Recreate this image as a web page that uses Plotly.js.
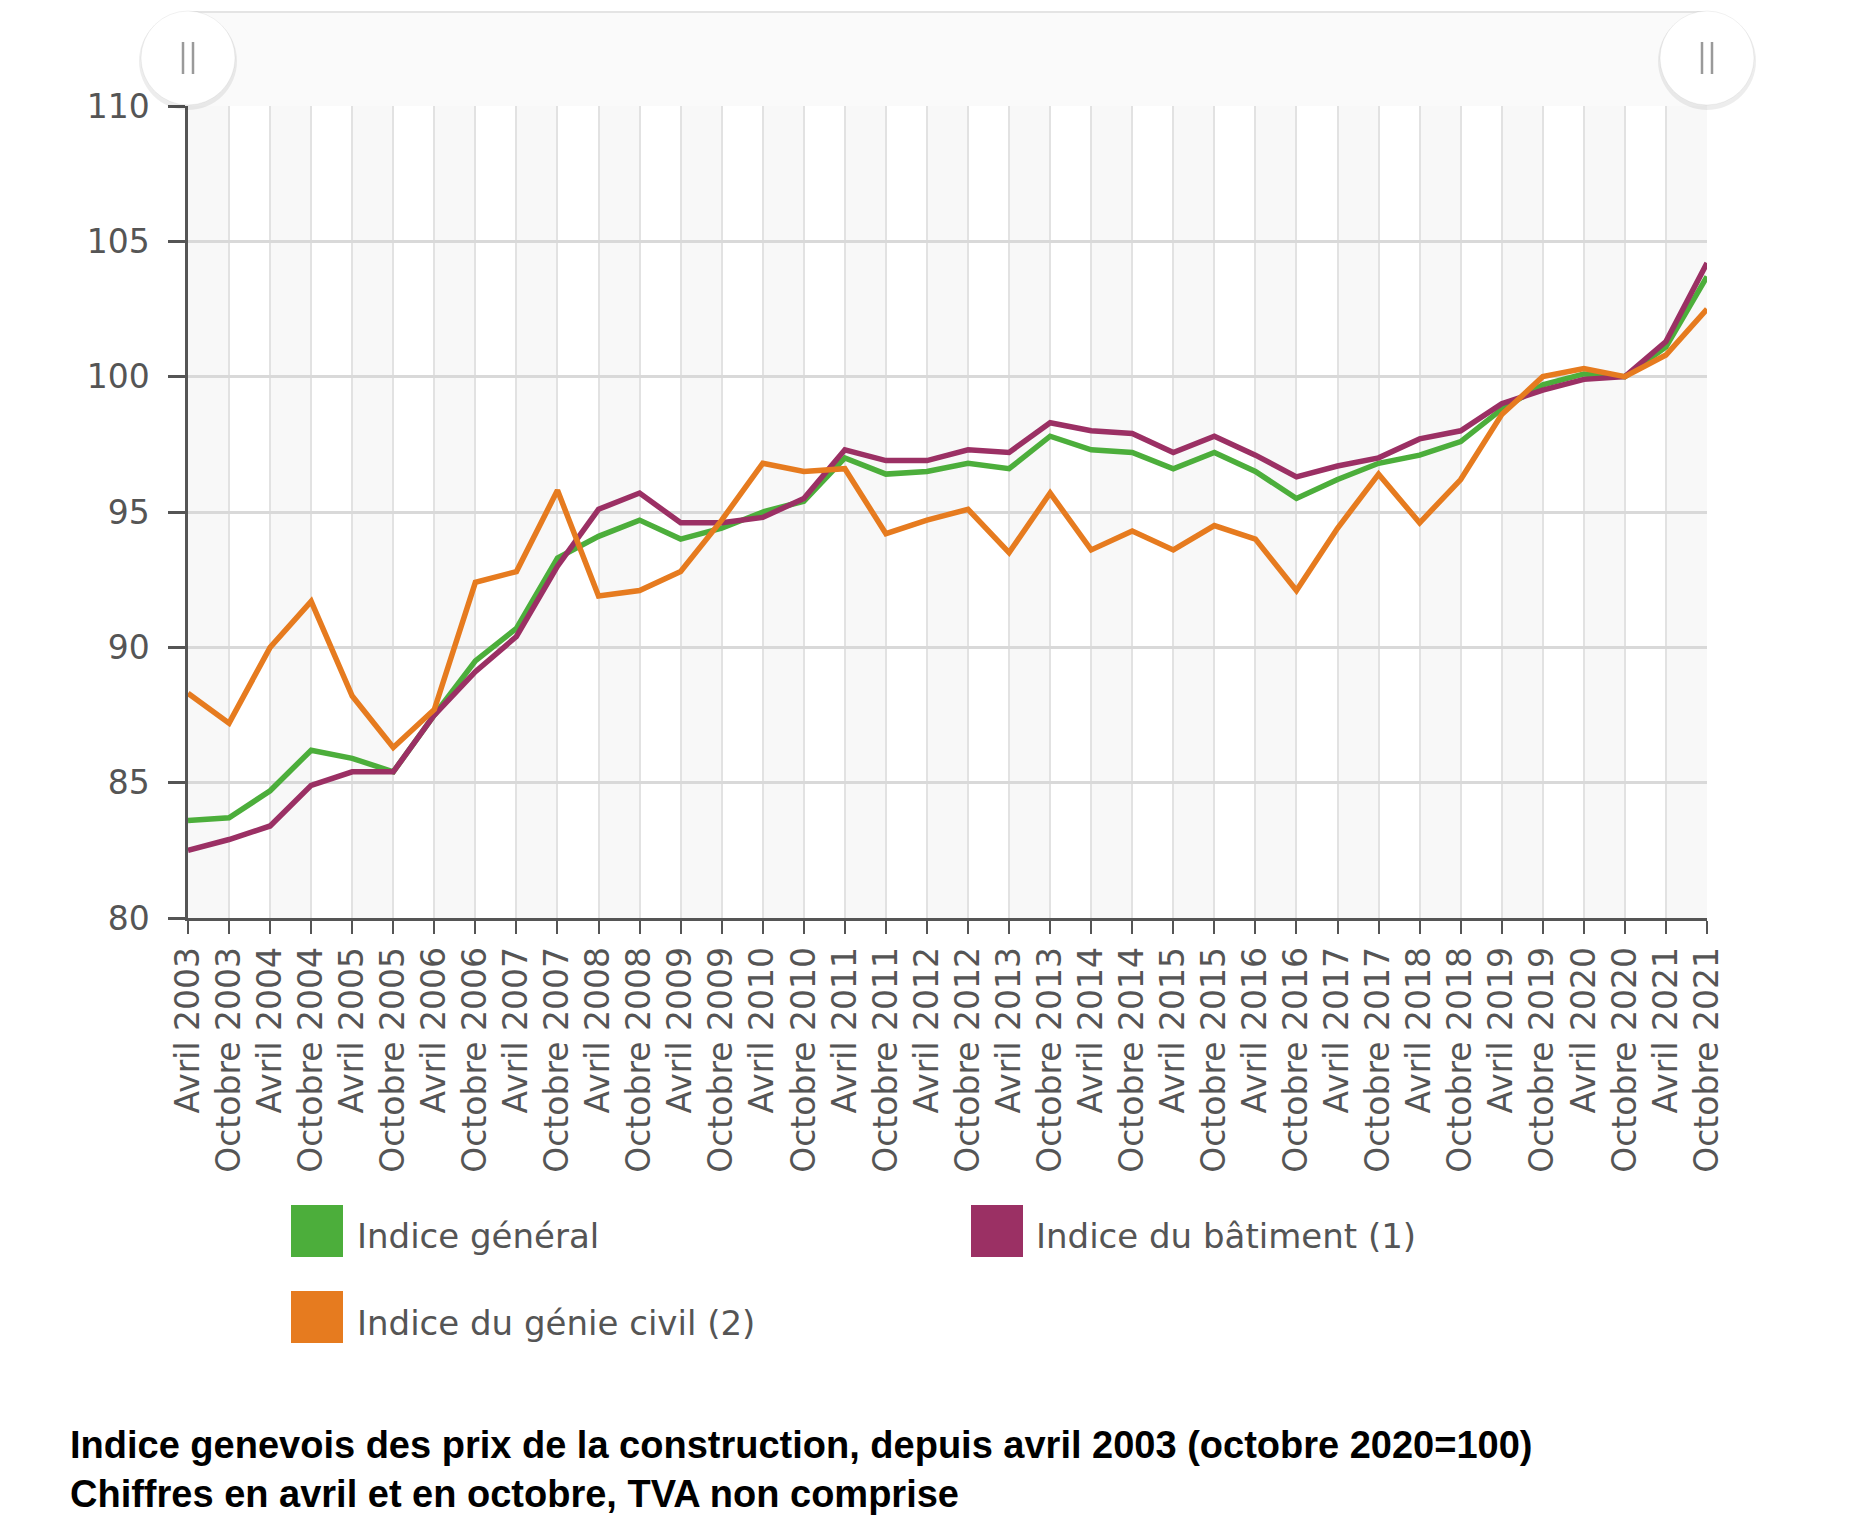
<!DOCTYPE html>
<html>
<head>
<meta charset="utf-8">
<script src="https://cdn.plot.ly/plotly-3.0.1.min.js"></script>
<style>
  html, body { margin: 0; padding: 0; background: #ffffff; }
  #chart { width: 1860px; height: 1522px; }
</style>
</head>
<body>
<div id="chart"></div>
<script>
// ---- Data ----
const categories = [
  "Avril 2003", "Octobre 2003", "Avril 2004", "Octobre 2004", "Avril 2005", "Octobre 2005",
  "Avril 2006", "Octobre 2006", "Avril 2007", "Octobre 2007", "Avril 2008", "Octobre 2008",
  "Avril 2009", "Octobre 2009", "Avril 2010", "Octobre 2010", "Avril 2011", "Octobre 2011",
  "Avril 2012", "Octobre 2012", "Avril 2013", "Octobre 2013", "Avril 2014", "Octobre 2014",
  "Avril 2015", "Octobre 2015", "Avril 2016", "Octobre 2016", "Avril 2017", "Octobre 2017",
  "Avril 2018", "Octobre 2018", "Avril 2019", "Octobre 2019", "Avril 2020", "Octobre 2020",
  "Avril 2021", "Octobre 2021"
];

const indiceGeneral = [
  83.6, 83.7, 84.7, 86.2, 85.9, 85.4, 87.5, 89.5, 90.7, 93.3,
  94.1, 94.7, 94.0, 94.4, 95.0, 95.4, 97.0, 96.4, 96.5, 96.8,
  96.6, 97.8, 97.3, 97.2, 96.6, 97.2, 96.5, 95.5, 96.2, 96.8,
  97.1, 97.6, 98.8, 99.7, 100.1, 100.0, 101.1, 103.7
];

const indiceBatiment = [
  82.5, 82.9, 83.4, 84.9, 85.4, 85.4, 87.5, 89.1, 90.4, 93.0,
  95.1, 95.7, 94.6, 94.6, 94.8, 95.5, 97.3, 96.9, 96.9, 97.3,
  97.2, 98.3, 98.0, 97.9, 97.2, 97.8, 97.1, 96.3, 96.7, 97.0,
  97.7, 98.0, 99.0, 99.5, 99.9, 100.0, 101.3, 104.2
];

const indiceGenieCivil = [
  88.3, 87.2, 90.0, 91.7, 88.2, 86.3, 87.7, 92.4, 92.8, 95.8,
  91.9, 92.1, 92.8, 94.7, 96.8, 96.5, 96.6, 94.2, 94.7, 95.1,
  93.5, 95.7, 93.6, 94.3, 93.6, 94.5, 94.0, 92.1, 94.4, 96.4,
  94.6, 96.2, 98.6, 100.0, 100.3, 100.0, 100.8, 102.5
];

const seriesNames = ["Indice général", "Indice du bâtiment (1)", "Indice du génie civil (2)"];
const seriesColors = ["#4cae3b", "#9b3064", "#e67b1f"];
const yTickValues = [80, 85, 90, 95, 100, 105, 110];

const titleLines = [
  "Indice genevois des prix de la construction, depuis avril 2003 (octobre 2020=100)",
  "Chiffres en avril et en octobre, TVA non comprise"
];

// ---- Layout geometry (pixels) ----
const W = 1860, H = 1522;
const plotL = 188, plotR = 1707, plotT = 106, plotB = 918;
const pw = plotR - plotL, ph = plotB - plotT;
const px2x = px => (px - plotL) / pw;
const py2y = py => (plotB - py) / ph;

const tickFont = { family: "DejaVu Sans, Verdana, sans-serif", size: 33, color: "#555555" };

// ---- Traces (green, purple, then orange on top) ----
const seriesData = [indiceGeneral, indiceBatiment, indiceGenieCivil];
const traces = seriesData.map((vals, i) => ({
  type: "scatter",
  mode: "lines",
  name: seriesNames[i],
  x: categories,
  y: vals,
  line: { color: seriesColors[i], width: 5.5 },
  showlegend: false,
  hovertemplate: "%{x}<br>" + seriesNames[i] + ": %{y}<extra></extra>"
}));

// ---- Shapes ----
const shapes = [];
// alternating vertical bands
for (let k = 0; k < categories.length - 1; k += 2) {
  shapes.push({
    type: "rect", xref: "x", yref: "paper",
    x0: k, x1: k + 1, y0: 0, y1: 1,
    fillcolor: "#f8f8f8", line: { width: 0 }, layer: "below"
  });
}
// navigator strip on top
shapes.push({
  type: "rect", xref: "paper", yref: "paper",
  x0: 0, x1: 1, y0: 1.0, y1: py2y(12),
  fillcolor: "#fafafa", line: { width: 0 }, layer: "above"
});
shapes.push({
  type: "line", xref: "paper", yref: "paper",
  x0: 0, x1: 1, y0: py2y(12), y1: py2y(12),
  line: { color: "#e4e4e4", width: 2 }, layer: "above"
});
// navigator handles
const handleY = py2y(58);
[0, 1].forEach(ax => {
  shapes.push({
    type: "circle", xref: "paper", yref: "paper",
    xsizemode: "pixel", ysizemode: "pixel", xanchor: ax, yanchor: handleY,
    x0: -49, x1: 49, y0: -52, y1: 46,
    fillcolor: "rgba(0,0,0,0.07)", line: { width: 0 }, layer: "above"
  });
  shapes.push({
    type: "circle", xref: "paper", yref: "paper",
    xsizemode: "pixel", ysizemode: "pixel", xanchor: ax, yanchor: handleY,
    x0: -47, x1: 47, y0: -47, y1: 47,
    fillcolor: "#ffffff", line: { color: "rgba(0,0,0,0.06)", width: 1 }, layer: "above"
  });
  [-5, 5].forEach(dx => {
    shapes.push({
      type: "line", xref: "paper", yref: "paper",
      xsizemode: "pixel", ysizemode: "pixel", xanchor: ax, yanchor: handleY,
      x0: dx, x1: dx, y0: -16, y1: 16,
      line: { color: "#9a9a9a", width: 2.5 }, layer: "above"
    });
  });
});

// ---- Custom legend (square swatches) ----
const legendItems = [
  { sw: [291, 1205], tx: [355, 1236] },
  { sw: [971, 1205], tx: [1034, 1236] },
  { sw: [291, 1291], tx: [355, 1323] }
];
const annotations = [];
legendItems.forEach((it, i) => {
  shapes.push({
    type: "rect", xref: "paper", yref: "paper",
    x0: px2x(it.sw[0]), x1: px2x(it.sw[0] + 52),
    y0: py2y(it.sw[1] + 52), y1: py2y(it.sw[1]),
    fillcolor: seriesColors[i], line: { width: 0 }
  });
  annotations.push({
    xref: "paper", yref: "paper",
    x: px2x(it.tx[0]), y: py2y(it.tx[1]),
    xanchor: "left", yanchor: "middle",
    text: seriesNames[i], showarrow: false,
    font: { family: "DejaVu Sans, Verdana, sans-serif", size: 34, color: "#555555" }
  });
});

const layout = {
  width: W, height: H,
  paper_bgcolor: "#ffffff",
  plot_bgcolor: "#ffffff",
  margin: { l: plotL, r: W - plotR, t: plotT, b: H - plotB, pad: 0 },
  title: {
    text: titleLines.join("<br>"),
    font: { family: "Liberation Sans Narrow, Arial Narrow, sans-serif", size: 38, color: "#000000", weight: 700 },
    xref: "container", yref: "container",
    x: 70 / W, xanchor: "left",
    y: 1 - 1458 / H, yanchor: "top"
  },
  xaxis: {
    type: "category",
    range: [0, categories.length - 1],
    tickangle: -90,
    tickfont: tickFont,
    showgrid: true, gridcolor: "#e2e2e2", gridwidth: 1.5,
    showline: true, linecolor: "#555555", linewidth: 2.5,
    ticks: "outside", ticklen: 13, tickwidth: 2, tickcolor: "#555555",
    zeroline: false, fixedrange: true
  },
  yaxis: {
    range: [80, 110],
    tickmode: "array", tickvals: yTickValues,
    tickfont: tickFont,
    ticklabelstandoff: 12,
    showgrid: true, gridcolor: "#d9d9d9", gridwidth: 2.5,
    showline: true, linecolor: "#555555", linewidth: 2.5,
    ticks: "outside", ticklen: 17, tickwidth: 2.5, tickcolor: "#555555",
    zeroline: false, fixedrange: true
  },
  shapes: shapes,
  annotations: annotations,
  showlegend: false
};

Plotly.newPlot("chart", traces, layout, { displayModeBar: false, responsive: false });
</script>
</body>
</html>
